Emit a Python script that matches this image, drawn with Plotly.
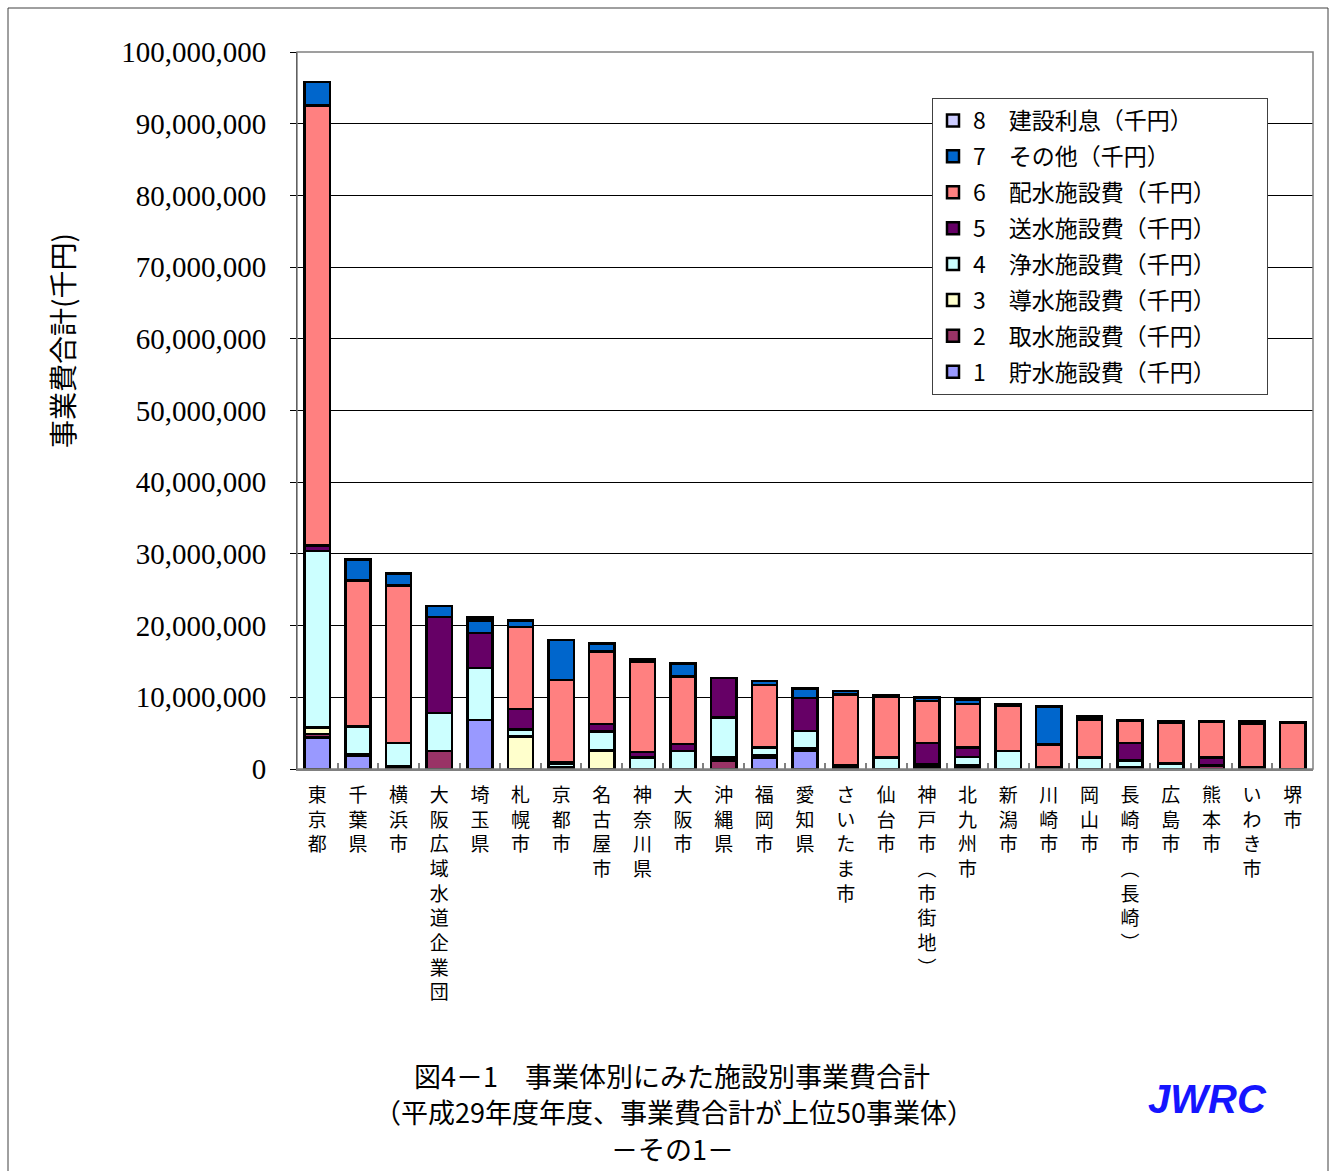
import plotly.graph_objects as go

# Categories (事業体)
names = ["東京都", "千葉県", "横浜市", "大阪広域水道企業団", "埼玉県", "札幌市", "京都市",
         "名古屋市", "神奈川県", "大阪市", "沖縄県", "福岡市", "愛知県", "さいたま市",
         "仙台市", "神戸市(市街地)", "北九州市", "新潟市", "川崎市", "岡山市",
         "長崎市(長崎)", "広島市", "熊本市", "いわき市", "堺市"]

# Series values (千円)
s1_chosui = [4400000, 1800000, 200000, 0, 6800000, 0, 0, 0, 0, 0, 0, 1600000, 2600000, 0,
             0, 0, 200000, 0, 0, 0, 0, 0, 0, 0, 0]
s2_shusui = [500000, 200000, 200000, 2500000, 0, 0, 300000, 0, 0, 0, 1200000, 300000, 300000, 300000,
             0, 300000, 0, 0, 200000, 0, 200000, 0, 400000, 0, 0]
s3_dousui = [900000, 0, 0, 0, 0, 4500000, 0, 2600000, 0, 0, 400000, 0, 0, 0,
             0, 0, 300000, 0, 0, 0, 0, 0, 0, 0, 0]
s4_jousui = [24600000, 3900000, 3200000, 5300000, 7300000, 1000000, 400000, 2600000, 1600000, 2500000,
             5600000, 1100000, 2400000, 200000, 1600000, 300000, 1200000, 2500000, 100000, 1600000,
             1000000, 800000, 100000, 300000, 0]
s5_sousui = [750000, 0, 0, 13400000, 4900000, 2900000, 300000, 1100000, 800000, 1000000,
             5500000, 0, 4600000, 0, 0, 3000000, 1300000, 0, 0, 0, 2400000, 0, 1100000, 0, 0]
s6_haisui = [61400000, 20400000, 22000000, 0, 0, 11400000, 11400000, 10100000, 12600000, 9400000,
             0, 8700000, 0, 9900000, 8500000, 5900000, 6100000, 6300000, 3100000, 5300000,
             3100000, 5600000, 5000000, 6000000, 6500000]
s7_sonota = [3300000, 2900000, 1700000, 1500000, 1700000, 900000, 5600000, 1100000, 300000, 1800000,
             0, 600000, 1300000, 500000, 200000, 500000, 600000, 300000, 5300000, 400000,
             100000, 200000, 100000, 300000, 0]
s8_risoku = [0, 0, 0, 0, 400000, 0, 0, 0, 0, 0, 0, 0, 0, 0,
             0, 0, 0, 0, 0, 0, 0, 0, 0, 0, 0]

series_names = ["1　貯水施設費（千円）", "2　取水施設費（千円）", "3　導水施設費（千円）",
                "4　浄水施設費（千円）", "5　送水施設費（千円）", "6　配水施設費（千円）",
                "7　その他（千円）", "8　建設利息（千円）"]
series_values = [s1_chosui, s2_shusui, s3_dousui, s4_jousui, s5_sousui, s6_haisui, s7_sonota, s8_risoku]
colors = ["#9999FF", "#993366", "#FFFFCC", "#CCFFFF", "#660066", "#FF8080", "#0066CC", "#CCCCFF"]

y_ticks = list(range(0, 100000001, 10000000))


def vertical(s):
    s = s.replace("(", "︵").replace(")", "︶")
    return "<br>".join(list(s))


xcats = [vertical(n) for n in names]

JP = "Noto Sans CJK JP"

fig = go.Figure()
n_series = len(series_names)
for i, (nm, vals, col) in enumerate(zip(series_names, series_values, colors)):
    fig.add_trace(go.Bar(
        x=xcats, y=vals, name=nm + "\u3000\u3000\u2002", legendgroup=str(i),
        legendrank=n_series - i,
        marker=dict(color=col, line=dict(color="black", width=2.5)),
    ))

W, H = 1335, 1171
L, R, T, B = 297, 22, 52, 402
pw, ph = W - L - R, H - T - B


def px_x(p):
    return (p - L) / pw


def px_y(p):
    return (H - B - p) / ph


fig.update_layout(
    width=W, height=H,
    margin=dict(l=L, r=R, t=T, b=B),
    barmode="stack", bargap=0.38,
    paper_bgcolor="white", plot_bgcolor="white",
    font=dict(family=JP, color="black"),
    showlegend=True,
    legend=dict(
        x=px_x(932), y=px_y(98), xanchor="left", yanchor="top",
        traceorder="grouped", tracegroupgap=3,
        bgcolor="white", bordercolor="#404040", borderwidth=1,
        font=dict(family=JP, size=23, color="black"),
    ),
    xaxis=dict(
        type="category", tickangle=0,
        tickfont=dict(family=JP, size=19, color="black"),
        showline=True, linecolor="#808080", linewidth=2,
        ticks="inside", ticklen=6, tickcolor="#808080", tickwidth=1.5,
        tickson="boundaries", showgrid=False,
        ticklabelstandoff=8,
    ),
    yaxis=dict(
        range=[0, 100000000], tickvals=y_ticks, tickformat=",",
        tickfont=dict(family="Liberation Serif", size=29, color="black"),
        showline=True, linecolor="black", linewidth=1,
        ticks="outside", ticklen=6, tickcolor="black",
        ticklabelstandoff=18,
        showgrid=True, gridcolor="#000000", gridwidth=1,
        zeroline=False,
    ),
    shapes=[
        dict(type="rect", xref="paper", yref="paper", x0=0, x1=1, y0=0, y1=1,
             line=dict(color="#808080", width=1.5), fillcolor="rgba(0,0,0,0)", layer="above"),
        dict(type="rect", xref="paper", yref="paper",
             x0=px_x(8), x1=px_x(1328), y0=px_y(1180), y1=px_y(8),
             line=dict(color="#404040", width=1), fillcolor="rgba(0,0,0,0)"),
    ],
    annotations=[
        dict(text="事業費合計(千円)", textangle=-90, xref="paper", yref="paper",
             x=px_x(62), y=px_y(341), xanchor="center", yanchor="middle", showarrow=False,
             font=dict(family=JP, size=28, color="black")),
        dict(text="図4－1　事業体別にみた施設別事業費合計", xref="paper", yref="paper",
             x=px_x(672), y=px_y(1075), xanchor="center", yanchor="middle", showarrow=False,
             font=dict(family=JP, size=27, color="black")),
        dict(text="（平成29年度年度、事業費合計が上位50事業体）", xref="paper", yref="paper",
             x=px_x(674), y=px_y(1111), xanchor="center", yanchor="middle", showarrow=False,
             font=dict(family=JP, size=27, color="black")),
        dict(text="－その1－", xref="paper", yref="paper",
             x=px_x(672), y=px_y(1148), xanchor="center", yanchor="middle", showarrow=False,
             font=dict(family=JP, size=27, color="black")),
        dict(text="<b><i>JWRC</i></b>", xref="paper", yref="paper",
             x=px_x(1207), y=px_y(1099), xanchor="center", yanchor="middle", showarrow=False,
             font=dict(family="Liberation Sans", size=40, color="#1515FF")),
    ],
)

fig.write_html("out.html", config={"displayModeBar": False},
               post_script="document.body.style.margin='0px';")
